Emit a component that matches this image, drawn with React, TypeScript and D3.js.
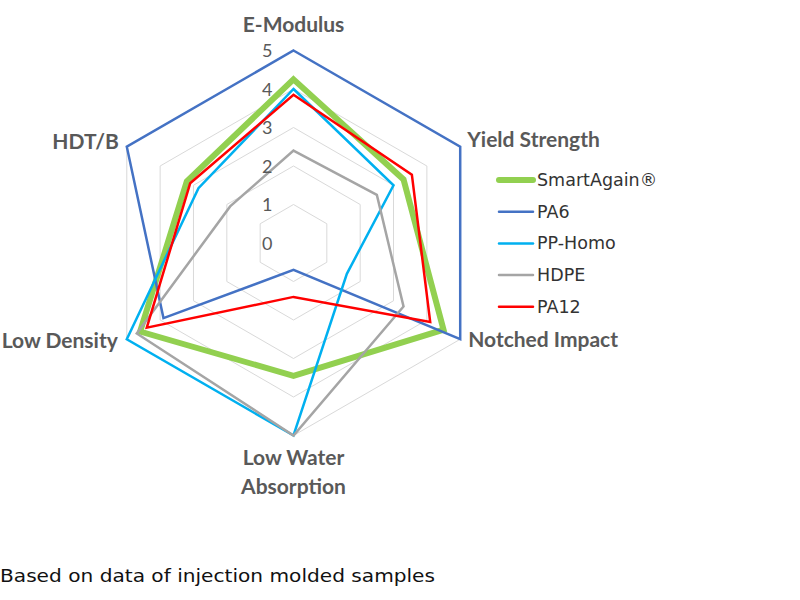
import React from "react";
import * as d3 from "d3";

const axes = ["E-Modulus", "Yield Strength", "Notched Impact", "Low Water Absorption", "Low Density", "HDT/B"];
const seriesNames = ["SmartAgain®", "PA6", "PP-Homo", "HDPE", "PA12"];
const smartAgain = [4.25, 3.3, 4.5, 3.45, 4.6, 3.2];
const pa6 = [5, 5, 5, 0.7, 3.9, 5];
const ppHomo = [4.0, 3.0, 1.6, 5, 5, 2.85];
const hdpe = [2.4, 2.5, 3.3, 5, 4.7, 1.9];
const pa12 = [3.85, 3.55, 4.1, 1.4, 4.4, 3.1];
const ticks = [0, 1, 2, 3, 4, 5];

const colors = ["#92d050", "#4472c4", "#00b0f0", "#a5a5a5", "#ff0000"];
const widths = [6, 2.5, 2.5, 2.5, 2.5];

// label offsets around each vertex
const labelPos = [
  { dx: 0, dy: -24, anchor: "middle" },
  { dx: 7, dy: -5, anchor: "start" },
  { dx: 8, dy: 3, anchor: "start" },
  { dx: 0, dy: 24, anchor: "middle" },
  { dx: -9, dy: 4, anchor: "end" },
  { dx: -8, dy: -3, anchor: "end" },
];

const App: React.FC = () => {
  const width = 800;
  const height = 600;
  const cx = 293.5;
  const cy = 243;
  const r = d3.scaleLinear().domain([0, 5]).range([0, 192.5]);
  const angle = d3
    .scaleLinear()
    .domain([0, axes.length])
    .range([0, 2 * Math.PI]);

  const radial = d3
    .lineRadial<number>()
    .angle((d, i) => angle(i))
    .radius((d) => r(d))
    .curve(d3.curveLinearClosed);

  const series = [smartAgain, pa6, ppHomo, hdpe, pa12];
  const point = (i: number, v: number) => [
    cx + r(v) * Math.sin(angle(i)),
    cy - r(v) * Math.cos(angle(i)),
  ];

  const labelFont = "Lato, 'DejaVu Sans', sans-serif";

  return (
    <svg
      width={width}
      height={height}
      style={{ position: "absolute", left: 0, top: 0, background: "#fff" }}
    >
      <g transform={`translate(${cx},${cy})`}>
        {ticks.slice(1).map((t) => (
          <path
            key={t}
            d={radial(axes.map(() => t)) || ""}
            fill="none"
            stroke="#d9d9d9"
            strokeWidth={1}
          />
        ))}
        {series.map((s, k) => (
          <path
            key={k}
            d={radial(s) || ""}
            fill="none"
            stroke={colors[k]}
            strokeWidth={widths[k]}
            strokeLinejoin="miter"
          />
        ))}
      </g>
      {ticks.map((t) => (
        <text
          key={t}
          x={cx - 21}
          y={cy - r(t) + 2}
          textAnchor="end"
          dominantBaseline="middle"
          fontFamily={labelFont}
          fontSize={18}
          fill="#595959"
        >
          {t}
        </text>
      ))}
      {axes.map((a, i) => {
        const [x, y] = point(i, 5);
        const p = labelPos[i];
        const lines = a === "Low Water Absorption" ? ["Low Water", "Absorption"] : [a];
        return (
          <text
            key={a}
            x={x + p.dx}
            y={y + p.dy}
            textAnchor={p.anchor as any}
            dominantBaseline="middle"
            fontFamily={labelFont}
            fontWeight="bold"
            fontSize={21}
            fill="#595959"
          >
            {lines.map((l, j) => (
              <tspan key={j} x={x + p.dx} dy={j === 0 ? 0 : 29}>
                {l}
              </tspan>
            ))}
          </text>
        );
      })}
      <g transform="translate(497,180)">
        {seriesNames.map((n, k) => (
          <g key={n} transform={`translate(0,${k * 31.7})`}>
            <line
              x1={2}
              x2={36}
              y1={0}
              y2={0}
              stroke={colors[k]}
              strokeWidth={widths[k]}
              strokeLinecap="round"
            />
            <text
              x={40}
              y={1}
              dominantBaseline="middle"
              fontFamily="'DejaVu Sans', sans-serif"
              fontSize={17.5}
              fill="#333"
            >
              {n}
            </text>
          </g>
        ))}
      </g>
      <text
        x={0}
        y={577}
        dominantBaseline="middle"
        fontFamily="'DejaVu Sans', sans-serif"
        fontSize={18.5}
        fill="#111"
        textLength={435}
        lengthAdjust="spacingAndGlyphs"
      >
        Based on data of injection molded samples
      </text>
    </svg>
  );
};

export default App;
